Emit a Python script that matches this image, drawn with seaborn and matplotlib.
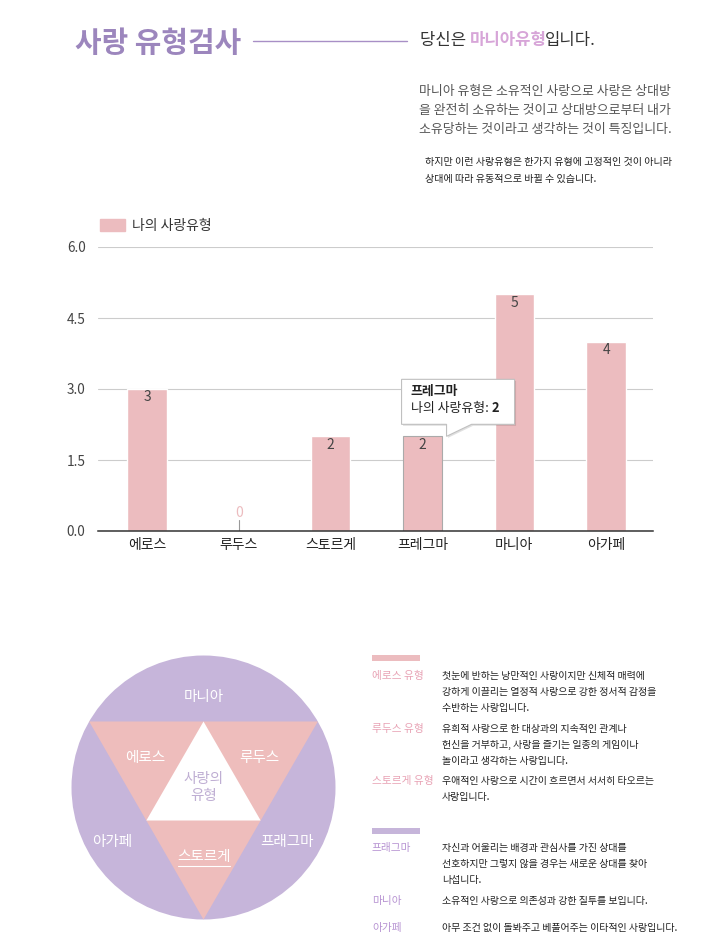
import numpy as np
import matplotlib
matplotlib.use('Agg')
import matplotlib.pyplot as plt
import seaborn as sns
from matplotlib.patches import Patch, Circle, Polygon, Rectangle

W, H = 705, 942

# 차트 데이터
categories = ['에로스', '루두스', '스토르게', '프레그마', '마니아', '아가페']
scores = [3, 0, 2, 2, 5, 4]
y_ticks = [0.0, 1.5, 3.0, 4.5, 6.0]
series_name = '나의 사랑유형'
hover_index = 3

title = '사랑 유형검사'
result_parts = ['당신은 ', '마니아유형', '입니다.']

intro_lines = [
    '마니아 유형은 소유적인 사랑으로 사랑은 상대방',
    '을 완전히 소유하는 것이고 상대방으로부터 내가',
    '소유당하는 것이라고 생각하는 것이 특징입니다.',
]
note_lines = [
    '하지만 이런 사랑유형은 한가지 유형에 고정적인 것이 아니라',
    '상대에 따라 유동적으로 바뀔 수 있습니다.',
]

wheel_outer = ['마니아', '아가페', '프래그마']
wheel_inner = ['에로스', '루두스', '스토르게']
wheel_center = '사랑의\n유형'

desc_labels_1 = ['에로스 유형', '루두스 유형', '스토르게 유형']
desc_texts_1 = [
    ['첫눈에 반하는 낭만적인 사랑이지만 신체적 매력에',
     '강하게 이끌리는 열정적 사랑으로 강한 정서적 감정을',
     '수반하는 사랑입니다.'],
    ['유희적 사랑으로 한 대상과의 지속적인 관계나',
     '헌신을 거부하고, 사랑을 즐기는 일종의 게임이나',
     '놀이라고 생각하는 사랑입니다.'],
    ['우애적인 사랑으로 시간이 흐르면서 서서히 타오르는',
     '사랑입니다.'],
]
desc_labels_2 = ['프래그마', '마니아', '아가페']
desc_texts_2 = [
    ['자신과 어울리는 배경과 관심사를 가진 상대를',
     '선호하지만 그렇지 않을 경우는 새로운 상대를 찾아',
     '나섭니다.'],
    ['소유적인 사랑으로 의존성과 강한 질투를 보입니다.'],
    ['아무 조건 없이 돌봐주고 베풀어주는 이타적인 사랑입니다.'],
]

PINK = '#ecbcbf'
TRI_PINK = '#eebdbc'
LAVENDER = '#c6b5da'
TITLE_PURPLE = '#9c86bd'
ACCENT = '#d7a5d8'
LABEL_PINK = '#e8a3b5'
LABEL_PURPLE = '#b793d2'

sns.set_theme(style='white')
plt.rcParams['font.family'] = ['Noto Sans CJK KR', 'DejaVu Sans']

fig = plt.figure(figsize=(W / 100, H / 100), dpi=100)
fig.patch.set_facecolor('white')

# ---- 막대 차트 ----
ax = fig.add_axes([98 / W, 1 - 531 / H, 555 / W, 284 / H])
sns.barplot(x=categories, y=scores, color=PINK, width=0.43, saturation=1, ax=ax)
ax.set_xlim(-0.535, 5.51)
ax.set_ylim(0, 6)
ax.set_yticks(y_ticks)
ax.set_yticklabels([f'{v:.1f}' for v in y_ticks])
ax.set_xlabel('')
ax.set_ylabel('')
ax.yaxis.grid(True, color='#cccccc', lw=0.8)
ax.xaxis.grid(False)
ax.set_axisbelow(True)
for side in ['top', 'right', 'left']:
    ax.spines[side].set_visible(False)
ax.spines['bottom'].set_color('#333333')
ax.spines['bottom'].set_linewidth(1.1)
ax.tick_params(axis='y', length=0, pad=9, labelsize=9.8, labelcolor='#444444')
ax.tick_params(axis='x', length=0, pad=5, labelsize=10, labelcolor='#222222')

for i, v in enumerate(scores):
    if v > 0:
        ax.annotate(str(v), (i, v), xytext=(0, -6), textcoords='offset points',
                    ha='center', va='center', fontsize=10, color='#444444')
    else:
        ax.plot([i, i], [0, 0.23], color='#999999', lw=0.8)
        ax.annotate(str(v), (i, 0.23), xytext=(0, 5), textcoords='offset points',
                    ha='center', va='center', fontsize=10, color=PINK)

# 마우스 오버된 막대
ax.patches[hover_index].set_edgecolor('#aaaaaa')
ax.patches[hover_index].set_linewidth(0.8)

ax.legend(handles=[Patch(color=PINK, label=series_name)], loc='center left',
          bbox_to_anchor=(100 / W, 1 - 226 / H), bbox_transform=fig.transFigure,
          frameon=False, fontsize=10, handlelength=1.8, handleheight=0.9,
          handletextpad=0.5, borderpad=0, borderaxespad=0, labelcolor='#333333')

# ---- 오버레이 (픽셀 좌표) ----
ov = fig.add_axes([0, 0, 1, 1], zorder=5)
ov.set_xlim(0, W)
ov.set_ylim(H, 0)
ov.axis('off')
ov.patch.set_visible(False)

# 제목
ov.text(75, 43, title, fontsize=20.8, fontweight='bold', color=TITLE_PURPLE,
        va='center', ha='left')
ov.plot([253, 407], [41, 41], color='#a88fc6', lw=1)

t = ov.text(420, 40, result_parts[0], fontsize=12, color='#333333', va='center')
t = ov.annotate(result_parts[1], xy=(1, 0), xycoords=t, va='bottom', fontsize=12,
                fontweight='bold', color=ACCENT)
ov.annotate(result_parts[2], xy=(1, 0), xycoords=t, xytext=(-1.2, 0),
            textcoords='offset points', va='bottom', fontsize=12, color='#333333')

for k, line in enumerate(intro_lines):
    ov.text(419, 92 + k * 18.5, line, fontsize=9.3, color='#555555', va='center')
for k, line in enumerate(note_lines):
    ov.text(425, 162 + k * 17, line, fontsize=7.25, color='#222222', va='center')

# 툴팁
tip = ov.transData.inverted().transform(
    ax.transData.transform((hover_index, scores[hover_index])))
tx, ty = tip[0] + 24, tip[1]
bl, br, bt, bb = tx - 45, tx + 68, ty - 57, ty - 12
shape = [(bl, bt), (br, bt), (br, bb), (tx + 25, bb), (tx, ty), (tx, bb), (bl, bb)]
ov.add_patch(Polygon([(x + 1.5, y + 1.5) for x, y in shape], closed=True,
                     facecolor='#000000', alpha=0.12, lw=0))
ov.add_patch(Polygon(shape, closed=True, facecolor='white', edgecolor='#c0c0c0', lw=0.8))
ov.text(bl + 9, ty - 45, categories[hover_index], fontsize=9.3, fontweight='bold',
        color='#222222', va='center')
t = ov.text(bl + 9, ty - 28, series_name + ': ', fontsize=9.3, color='#222222',
            va='center')
ov.annotate(str(scores[hover_index]), xy=(1, 0), xycoords=t, va='bottom',
            fontsize=9.3, fontweight='bold', color='#222222')

# ---- 사랑의 유형 다이어그램 ----
cx, cy, r = 203.5, 787.5, 132
ov.add_patch(Circle((cx, cy), r, facecolor=LAVENDER, lw=0))
ang = np.radians([150, 30, -90])
tri = [(cx + r * np.cos(a), cy - r * np.sin(a)) for a in ang]
ov.add_patch(Polygon(tri, closed=True, facecolor=TRI_PINK, lw=0))
mid = [((tri[i][0] + tri[(i + 1) % 3][0]) / 2, (tri[i][1] + tri[(i + 1) % 3][1]) / 2)
       for i in range(3)]
ov.add_patch(Polygon(mid, closed=True, facecolor='white', lw=0))

outer_pos = [(cx, cy - 0.686 * r), (cx - 0.69 * r, cy + 0.41 * r), (cx + 0.63 * r, cy + 0.41 * r)]
inner_pos = [(cx - 0.44 * r, cy - 0.223 * r), (cx + 0.42 * r, cy - 0.223 * r), (cx, cy + 0.53 * r)]
for name, (x, y) in zip(wheel_outer, outer_pos):
    ov.text(x, y, name, fontsize=10.5, color='white', ha='center', va='center')
for name, (x, y) in zip(wheel_inner, inner_pos):
    ov.text(x, y, name, fontsize=10.5, color='white', ha='center', va='center')
ov.plot([cx - 26, cx + 26], [cy + 0.53 * r + 9, cy + 0.53 * r + 9], color='white', lw=0.8)
ov.text(cx, cy, wheel_center, fontsize=10.5, color='#bfaed3', ha='center', va='center',
        linespacing=1.3)

# ---- 유형 설명 ----
ov.add_patch(Rectangle((372, 655), 48, 6, facecolor=PINK, lw=0))
ov.add_patch(Rectangle((372, 828), 48, 6, facecolor=LAVENDER, lw=0))

block1_y = [676, 729, 781]
block2_y = [848, 901, 928]
for labels, texts, ys, col in [(desc_labels_1, desc_texts_1, block1_y, LABEL_PINK),
                               (desc_labels_2, desc_texts_2, block2_y, LABEL_PURPLE)]:
    for lab, lines, y0 in zip(labels, texts, ys):
        ov.text(372, y0, lab, fontsize=7.7, color=col, va='center')
        for k, line in enumerate(lines):
            ov.text(442, y0 + k * 16, line, fontsize=7.2, color='#222222', va='center')

fig.savefig('out.png', dpi=100)
